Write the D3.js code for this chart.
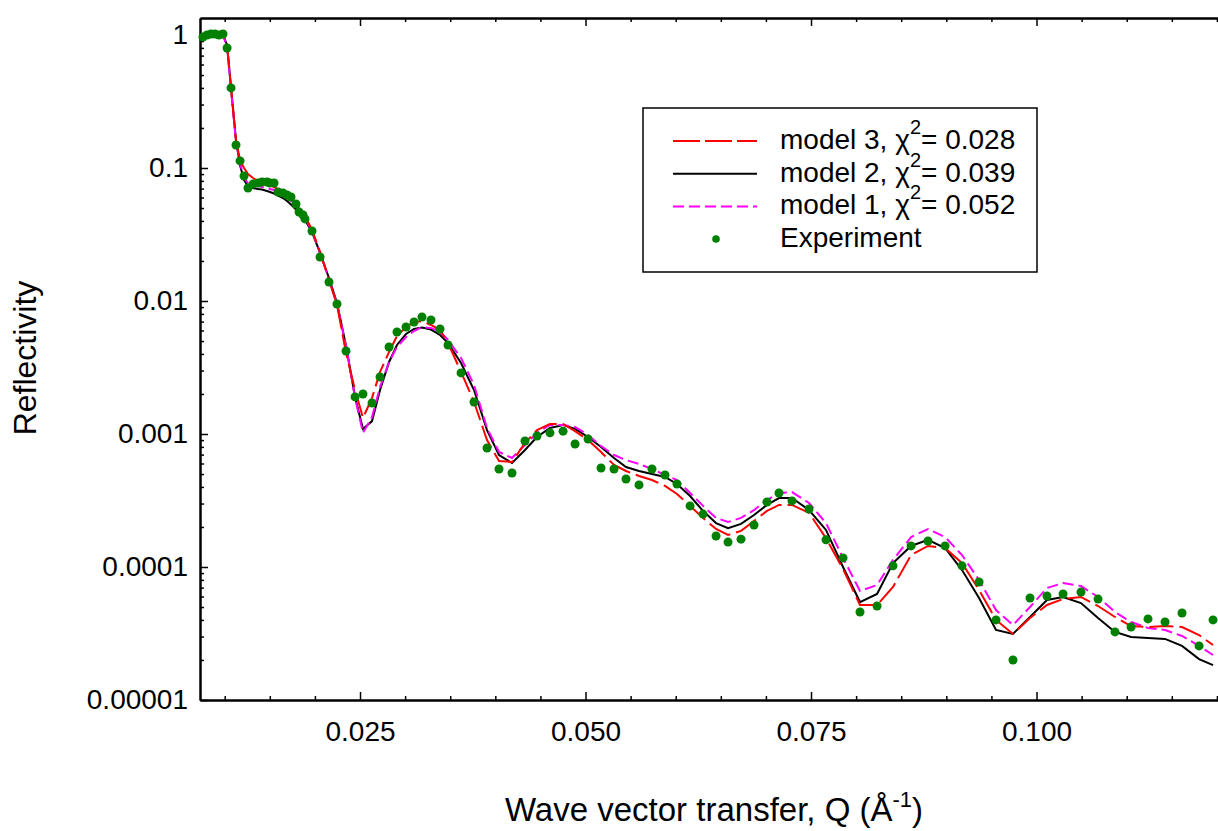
<!DOCTYPE html>
<meta charset="utf-8">
<script src="https://d3js.org/d3.v7.min.js"></script>
<style type="text/css">
body { margin: 0; background: #fff; }
svg { display: block; font-family: "Liberation Sans", Arial, sans-serif; }
.axis path, .axis line { stroke: #000; }
.axis path { stroke-width: 2px; }
.axis line { stroke-width: 1.5px; }
.axis text { font-size: 28px; fill: #000; font-family: "Liberation Sans", Arial, sans-serif; }
</style>
<body>
<script>

// Q values (1/A), shared by the experiment and the three model curves
var qValues = [
  0.00759, 0.00804, 0.00848, 0.00892, 0.00937, 0.00981, 0.01026, 0.01070, 0.01125, 0.01170,
  0.01214, 0.01258, 0.01314, 0.01369, 0.01414, 0.01469, 0.01502, 0.01547, 0.01591, 0.01646,
  0.01691, 0.01735, 0.01790, 0.01824, 0.01868, 0.01890, 0.01968, 0.02057, 0.02156, 0.02245,
  0.02345, 0.02445, 0.02533, 0.02633, 0.02722, 0.02822, 0.02910, 0.03010, 0.03099, 0.03187,
  0.03287, 0.03387, 0.03476, 0.03620, 0.03764, 0.03908, 0.04041, 0.04185, 0.04329, 0.04462,
  0.04606, 0.04751, 0.04884, 0.05028, 0.05172, 0.05316, 0.05449, 0.05593, 0.05737, 0.05881,
  0.06014, 0.06159, 0.06303, 0.06447, 0.06580, 0.06724, 0.06868, 0.07012, 0.07145, 0.07289,
  0.07478, 0.07666, 0.07855, 0.08043, 0.08232, 0.08409, 0.08609, 0.08797, 0.08986, 0.09174,
  0.09363, 0.09551, 0.09739, 0.09928, 0.10116, 0.10294, 0.10493, 0.10682, 0.10870, 0.11048,
  0.11236, 0.11425, 0.11613, 0.11802, 0.11957
];

var experiment = [
  0.966, 1.0, 1.017, 1.017, 1.0, 1.017, 0.798, 0.400, 0.149, 0.113,
  0.0871, 0.0707, 0.0758, 0.0771, 0.0785, 0.0785, 0.0771, 0.0771, 0.0660, 0.0648,
  0.0627, 0.0605, 0.0536, 0.0467, 0.0443, 0.0414, 0.0336, 0.0214, 0.0139, 0.00949,
  0.00421, 0.00190, 0.00200, 0.00171, 0.00268, 0.00451, 0.00585, 0.00637, 0.00695, 0.00758,
  0.00719, 0.00616, 0.00467, 0.00288, 0.00174, 0.000785, 0.000545, 0.000509, 0.000886, 0.000966,
  0.00102, 0.00105, 0.000841, 0.000917, 0.000555, 0.000545, 0.000459, 0.000414, 0.000545, 0.000492,
  0.000421, 0.000288, 0.000250, 0.000171, 0.000154, 0.000162, 0.000207, 0.000308, 0.000360, 0.000314,
  0.000273, 0.000160, 0.000117, 0.0000459, 0.0000509, 0.000102, 0.000144, 0.000157, 0.000144, 0.000102,
  0.0000771, 0.0000400, 0.0000200, 0.0000585, 0.0000605, 0.0000627, 0.0000648, 0.0000574, 0.0000325, 0.0000354,
  0.0000407, 0.0000386, 0.0000451, 0.0000255, 0.0000400
];

var model1 = [
  0.983, 0.983, 0.983, 0.983, 0.983, 0.983, 0.826, 0.393, 0.157, 0.109,
  0.0841, 0.0771, 0.0745, 0.0732, 0.0719, 0.0707, 0.0695, 0.0683, 0.0660, 0.0627,
  0.0595, 0.0565, 0.0518, 0.0483, 0.0443, 0.0421, 0.0336, 0.0230, 0.0146, 0.00949,
  0.00459, 0.00187, 0.00102, 0.00134, 0.00226, 0.00348, 0.00451, 0.00536, 0.00595, 0.00637,
  0.00627, 0.00585, 0.00509, 0.00373, 0.00234, 0.00111, 0.000732, 0.000660, 0.000826, 0.00102,
  0.00117, 0.00117, 0.00113, 0.000983, 0.000812, 0.000695, 0.000637, 0.000595, 0.000545, 0.000492,
  0.000451, 0.000360, 0.000288, 0.000234, 0.000218, 0.000234, 0.000268, 0.000319, 0.000360, 0.000366,
  0.000303, 0.000214, 0.000117, 0.0000660, 0.0000732, 0.000113, 0.000168, 0.000193, 0.000168, 0.000123,
  0.0000798, 0.0000475, 0.0000366, 0.0000500, 0.0000695, 0.0000758, 0.0000719, 0.0000595, 0.0000459, 0.0000386,
  0.0000348, 0.0000336, 0.0000303, 0.0000255, 0.0000218
];

var model2 = [
  1.0, 1.0, 1.0, 1.0, 1.0, 1.0, 0.841, 0.400, 0.162, 0.105,
  0.0812, 0.0732, 0.0707, 0.0695, 0.0689, 0.0672, 0.0660, 0.0643, 0.0621, 0.0595,
  0.0565, 0.0532, 0.0488, 0.0463, 0.0424, 0.0407, 0.0330, 0.0230, 0.0149, 0.00966,
  0.00459, 0.00190, 0.00109, 0.00125, 0.00214, 0.00348, 0.00467, 0.00565, 0.00616, 0.00632,
  0.00610, 0.00555, 0.00483, 0.00342, 0.00214, 0.00107, 0.000695, 0.000605, 0.000758, 0.000949,
  0.00111, 0.00117, 0.00109, 0.000949, 0.000798, 0.000660, 0.000565, 0.000527, 0.000500, 0.000475,
  0.000421, 0.000342, 0.000264, 0.000214, 0.000196, 0.000211, 0.000246, 0.000293, 0.000330, 0.000330,
  0.000268, 0.000190, 0.000100, 0.0000545, 0.0000627, 0.000107, 0.000144, 0.000160, 0.000139, 0.0000949,
  0.0000585, 0.0000336, 0.0000314, 0.0000421, 0.0000565, 0.0000595, 0.0000536, 0.0000414, 0.0000325, 0.0000298,
  0.0000293, 0.0000288, 0.0000255, 0.0000203, 0.0000183
];

var model3 = [
  1.0, 1.0, 1.0, 1.0, 1.0, 1.0, 0.841, 0.400, 0.162, 0.115,
  0.100, 0.0901, 0.0841, 0.0798, 0.0778, 0.0758, 0.0745, 0.0719, 0.0695, 0.0660,
  0.0627, 0.0590, 0.0536, 0.0500, 0.0459, 0.0436, 0.0342, 0.0234, 0.0144, 0.00933,
  0.00407, 0.00214, 0.00132, 0.00187, 0.00293, 0.00414, 0.00545, 0.00637, 0.00695, 0.00707,
  0.00660, 0.00605, 0.00483, 0.00293, 0.00174, 0.000901, 0.000627, 0.000616, 0.000856, 0.00107,
  0.00119, 0.00119, 0.00105, 0.000901, 0.000732, 0.000585, 0.000527, 0.000483, 0.000451, 0.000407,
  0.000354, 0.000288, 0.000234, 0.000193, 0.000174, 0.000187, 0.000222, 0.000264, 0.000293, 0.000293,
  0.000255, 0.000165, 0.0000966, 0.0000518, 0.0000518, 0.0000707, 0.000123, 0.000144, 0.000139, 0.000107,
  0.0000672, 0.0000400, 0.0000314, 0.0000414, 0.0000518, 0.0000574, 0.0000595, 0.0000509, 0.0000421, 0.0000360,
  0.0000354, 0.0000360, 0.0000354, 0.0000308, 0.0000259
];

// tick values and their labels
var xTickValues = [0.025, 0.050, 0.075, 0.100];
var xTickLabels = ['0.025', '0.050', '0.075', '0.100'];
var yTickValues = [1, 0.1, 0.01, 0.001, 0.0001, 0.00001];
var yTickLabels = ['1', '0.1', '0.01', '0.001', '0.0001', '0.00001'];

// legend entries
var legendLabels = ['model 3', 'model 2', 'model 1'];
var legendChi = ['0.028', '0.039', '0.052'];

var W = 1218, H = 831;
var plotLeft = 200, plotRight = 1218, plotTop = 18, plotBottom = 700;

var svg = d3.select('body').append('svg')
  .attr('width', W)
  .attr('height', H);

// scales
var xScale = d3.scaleLinear()
  .domain([0.00726, 0.12012])
  .range([plotLeft, plotRight]);

var yScale = d3.scaleLog()
  .domain([0.00001, 1.342])
  .range([plotBottom, plotTop]);

// minor tick positions
var xMinor = d3.range(0.010, 0.1201, 0.005).filter(function(d) {
  return Math.abs(d / 0.025 - Math.round(d / 0.025)) > 0.01;
});
var yMinor = [];
yTickValues.forEach(function(dec) {
  for (var k = 2; k <= 9; k++) { if (dec * k < 1.342) yMinor.push(dec * k); }
});

// x axis (ticks point inward)
svg.append('g')
  .attr('class', 'axis')
  .attr('transform', 'translate(0,' + plotBottom + ')')
  .call(d3.axisBottom(xScale).tickValues(xMinor).tickSize(-4).tickSizeOuter(0).tickFormat(''));

svg.append('g')
  .attr('class', 'axis')
  .attr('transform', 'translate(0,' + plotBottom + ')')
  .call(d3.axisBottom(xScale).tickValues(xTickValues).tickSize(-8).tickSizeOuter(0).tickPadding(21)
    .tickFormat(function(d, i) { return xTickLabels[i]; }));

// top frame with ticks
svg.append('g')
  .attr('class', 'axis')
  .attr('transform', 'translate(0,' + plotTop + ')')
  .call(d3.axisTop(xScale).tickValues(xMinor).tickSize(-4).tickSizeOuter(0).tickFormat(''));

svg.append('g')
  .attr('class', 'axis')
  .attr('transform', 'translate(0,' + plotTop + ')')
  .call(d3.axisTop(xScale).tickValues(xTickValues).tickSize(-8).tickSizeOuter(0).tickFormat(''));

// y axis
svg.append('g')
  .attr('class', 'axis')
  .attr('transform', 'translate(' + plotLeft + ',0)')
  .call(d3.axisLeft(yScale).tickValues(yMinor).tickSize(-4).tickSizeOuter(0).tickFormat(''));

svg.append('g')
  .attr('class', 'axis')
  .attr('transform', 'translate(' + plotLeft + ',0)')
  .call(d3.axisLeft(yScale).tickValues(yTickValues).tickSize(-8).tickSizeOuter(0).tickPadding(12)
    .tickFormat(function(d, i) { return yTickLabels[i]; }));

svg.selectAll('.axis text').attr('font-size', null).attr('font-family', null);

// curves
var rows = qValues.map(function(q, i) {
  return {q: q, exp: experiment[i], m1: model1[i], m2: model2[i], m3: model3[i]};
});

function lineFor(key) {
  return d3.line()
    .x(function(d) { return xScale(d.q); })
    .y(function(d) { return yScale(d[key]); });
}

var series = [
  {key: 'm2', color: '#000000', dash: null},
  {key: 'm1', color: '#ff00ff', dash: '11,5'},
  {key: 'm3', color: '#ff0000', dash: '24,6'}
];

svg.selectAll('.curve')
  .data(series)
  .enter().append('path')
  .attr('class', 'curve')
  .attr('d', function(s) { return lineFor(s.key)(rows); })
  .attr('fill', 'none')
  .attr('stroke', function(s) { return s.color; })
  .attr('stroke-width', 2)
  .attr('stroke-dasharray', function(s) { return s.dash; });

// experimental points
svg.selectAll('.expDot')
  .data(rows)
  .enter().append('circle')
  .attr('class', 'expDot')
  .attr('cx', function(d) { return xScale(d.q); })
  .attr('cy', function(d) { return yScale(d.exp); })
  .attr('r', 4.5)
  .attr('fill', '#008000');

// legend
var legend = svg.append('g').attr('class', 'legend');

legend.append('rect')
  .attr('x', 643).attr('y', 108)
  .attr('width', 394).attr('height', 164)
  .attr('fill', '#fff')
  .attr('stroke', '#000')
  .attr('stroke-width', 1.5);

var legendStyles = [
  {color: '#ff0000', dash: '27,5'},
  {color: '#000000', dash: null},
  {color: '#ff00ff', dash: '11,5'}
];

legendLabels.forEach(function(lab, i) {
  var yy = 141 + i * 32.7;
  legend.append('line')
    .attr('x1', 673).attr('x2', 757)
    .attr('y1', yy).attr('y2', yy)
    .attr('stroke', legendStyles[i].color)
    .attr('stroke-width', 2)
    .attr('stroke-dasharray', legendStyles[i].dash);

  var t = legend.append('text')
    .attr('x', 780).attr('y', yy + 8)
    .attr('font-size', 28);
  t.append('tspan').text(lab + ', \u03c7');
  t.append('tspan').attr('dy', -15).attr('font-size', 20).text('2');
  t.append('tspan').attr('dy', 15).text('= ' + legendChi[i]);
});

legend.append('circle')
  .attr('cx', 716).attr('cy', 239)
  .attr('r', 3.8)
  .attr('fill', '#008000');

legend.append('text')
  .attr('x', 780).attr('y', 247)
  .attr('font-size', 28)
  .text('Experiment');

// axis titles
var xt = svg.append('text')
  .attr('x', 714).attr('y', 821)
  .attr('text-anchor', 'middle')
  .attr('font-size', 33);
xt.append('tspan').text('Wave vector transfer, Q (\u00c5');
xt.append('tspan').attr('dy', -14).attr('font-size', 22).text('-1');
xt.append('tspan').attr('dy', 14).text(')');

svg.append('text')
  .attr('transform', 'translate(36,358) rotate(-90)')
  .attr('text-anchor', 'middle')
  .attr('font-size', 32)
  .text('Reflectivity');

</script>
</body>
